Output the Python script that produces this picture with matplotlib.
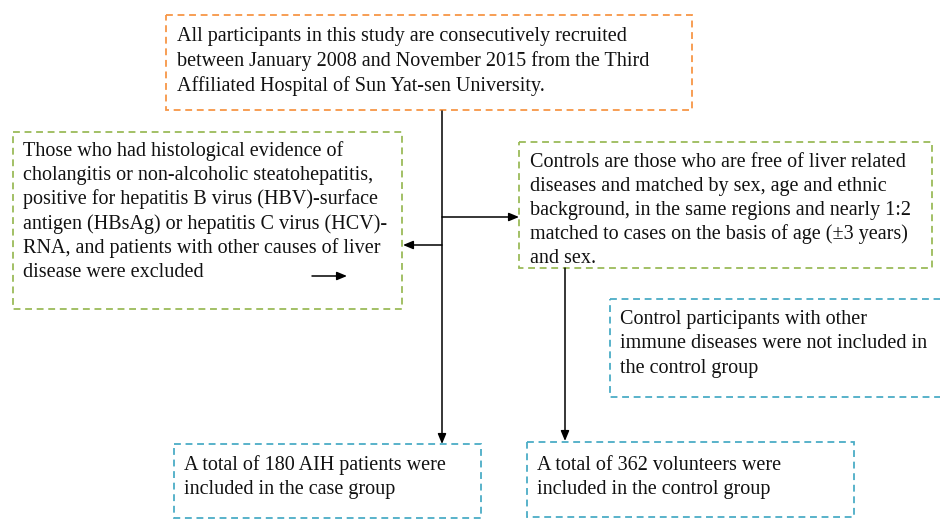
import matplotlib
matplotlib.use("Agg")
import matplotlib.pyplot as plt
from matplotlib.patches import Rectangle

plt.rcParams['font.family'] = ['Liberation Serif', 'DejaVu Serif']

# ---- content ----
top_lines = [
    "All participants in this study are consecutively recruited",
    "between January 2008 and November 2015 from the Third",
    "Affiliated Hospital of Sun Yat-sen University.",
]
exclude_lines = [
    "Those who had histological evidence of",
    "cholangitis or non-alcoholic steatohepatitis,",
    "positive for hepatitis B virus (HBV)-surface",
    "antigen (HBsAg) or hepatitis C virus (HCV)-",
    "RNA, and patients with other causes of liver",
    "disease were excluded",
]
control_lines = [
    "Controls are those who are free of liver related",
    "diseases and matched by sex, age and ethnic",
    "background, in the same regions and nearly 1:2",
    "matched to cases on the basis of age (\u00b13 years)",
    "and sex.",
]
immune_lines = [
    "Control participants with other",
    "immune diseases were not included in",
    "the control group",
]
case_lines = [
    "A total of 180 AIH patients were",
    "included in the case group",
]
volunteer_lines = [
    "A total of 362 volunteers were",
    "included in the control group",
]

ORANGE = "#F79646"
GREEN = "#9BBB59"
BLUE = "#4BACC6"

W, H = 940, 519
fig = plt.figure(figsize=(W / 100, H / 100), dpi=100)
ax = fig.add_axes([0, 0, 1, 1])
ax.set_xlim(0, W)
ax.set_ylim(H, 0)
ax.axis('off')

FS = 14.5
LS = 24.4

def box(x0, y0, x1, y1, color, lines, tx, ty, ls=LS):
    ax.add_patch(Rectangle((x0, y0), x1 - x0, y1 - y0, fill=False,
                           edgecolor=color, linewidth=1.3,
                           linestyle=(0, (3.8, 2.6))))
    for i, t in enumerate(lines):
        ax.text(tx, ty + i * ls, t, fontsize=FS, color='#111111',
                ha='left', va='baseline')

box(166, 15, 692, 110, ORANGE, top_lines, 177, 41, 25)
box(13, 132, 402, 309, GREEN, exclude_lines, 23, 156, 24.2)
box(519, 142, 932, 268, GREEN, control_lines, 530, 167, 24.1)
box(610, 299, 955, 397, BLUE, immune_lines, 620, 324, 24.4)
box(174, 444, 481, 518, BLUE, case_lines, 184, 470, 24.4)
box(527, 442, 854, 517, BLUE, volunteer_lines, 537, 470, 24.4)

def arrow(x0, y0, x1, y1):
    ax.annotate("", xy=(x1, y1), xytext=(x0, y0),
                arrowprops=dict(arrowstyle='-|>,head_length=0.6,head_width=0.25',
                                color='black', lw=1.1,
                                shrinkA=0, shrinkB=0))

arrow(442, 111, 442, 444)
arrow(442, 217, 519, 217)
arrow(442, 245, 403, 245)
arrow(565, 268, 565, 441)
arrow(312, 276, 347, 276)

fig.savefig("out.png", dpi=100)
